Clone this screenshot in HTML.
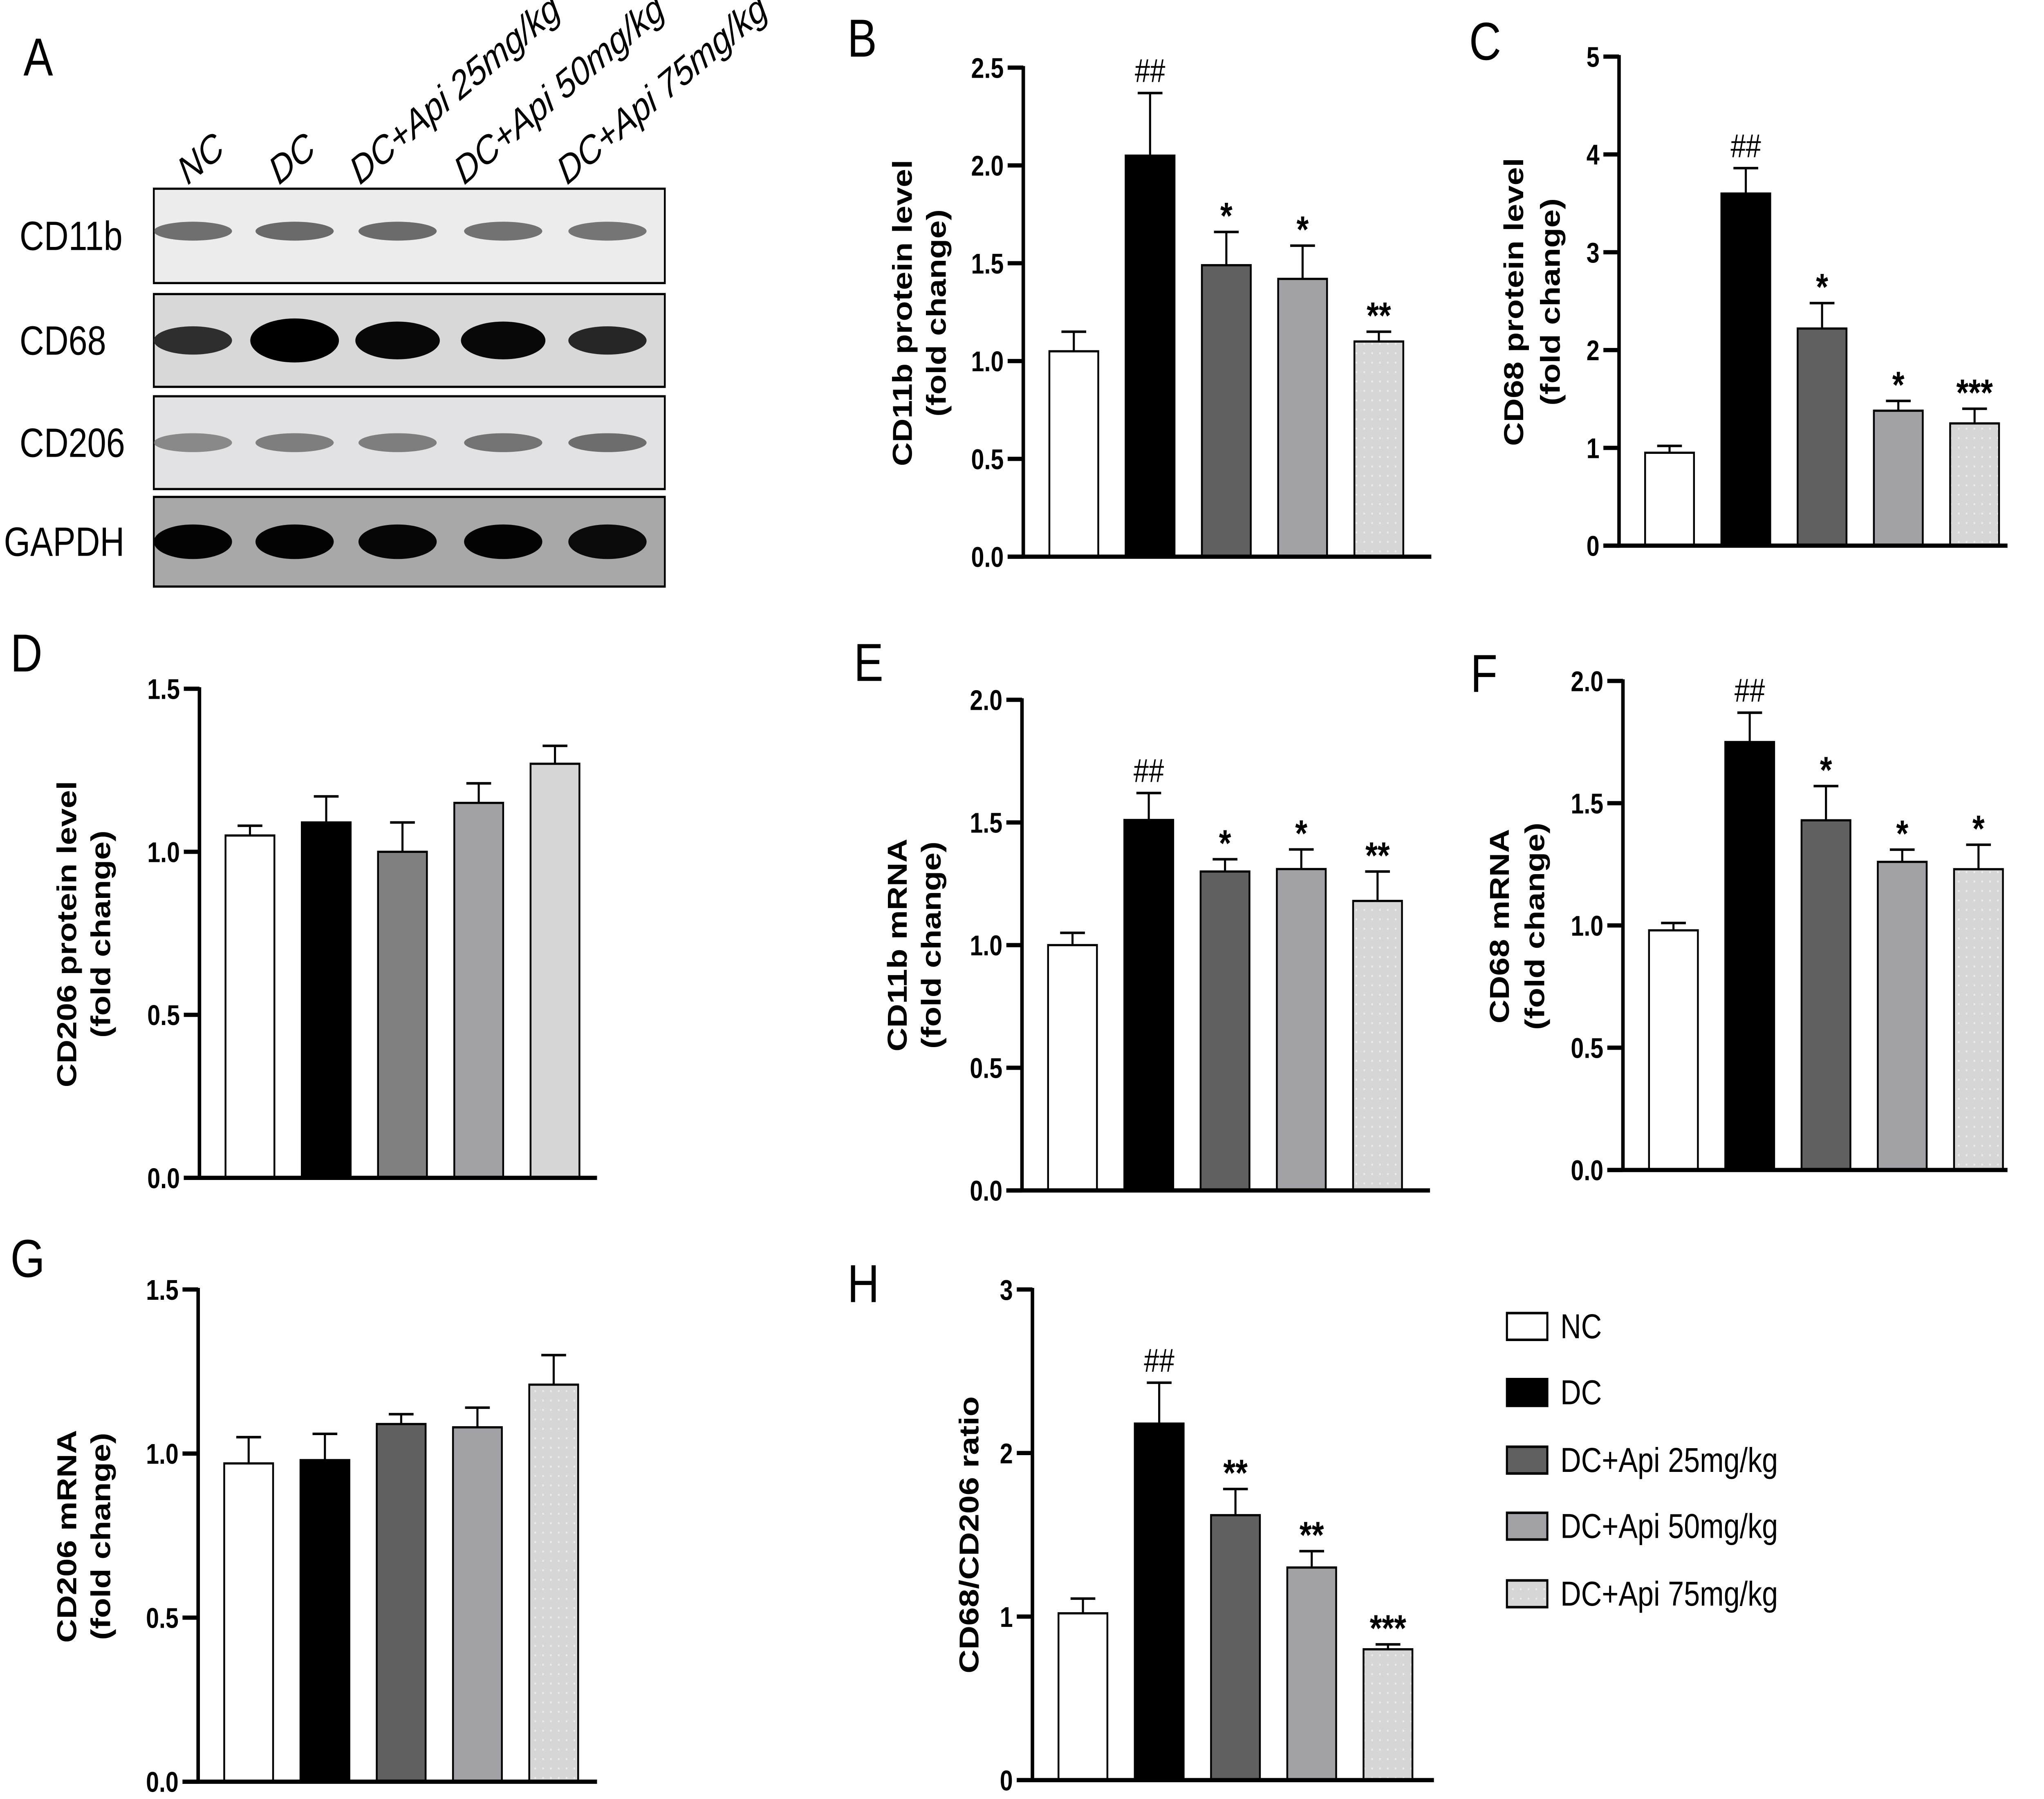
<!DOCTYPE html>
<html><head><meta charset="utf-8">
<style>
html,body{margin:0;padding:0;background:#fff;width:100%;height:100%;overflow:hidden;}
svg{display:block;width:100vw;height:100vh;}
text{font-family:"Liberation Sans",sans-serif;}
</style></head>
<body>
<svg id="fig" viewBox="0 0 1568 1144" preserveAspectRatio="none" xmlns="http://www.w3.org/2000/svg">
<defs>
<pattern id="dots" width="6" height="6" patternUnits="userSpaceOnUse">
<rect width="6" height="6" fill="#d6d6d6"/><rect x="2" y="2" width="1.2" height="1.2" fill="#ececec"/>
</pattern>
</defs>
<g id="blot">
<text x="18" y="48" font-size="34">A</text>
</g>
<g id="charts"></g>
<g id="legend"></g>
</svg>
<script>
// ---- data ----
const groups = ["NC","DC","DC+Api 25mg/kg","DC+Api 50mg/kg","DC+Api 75mg/kg"];
const valsB = [1.05, 2.05, 1.49, 1.42, 1.10];
const errB  = [0.10, 0.32, 0.17, 0.17, 0.05];
const sigB  = ["", "##", "*", "*", "**"];
const ticksB = [0, 0.5, 1.0, 1.5, 2.0, 2.5];
const valsC = [0.95, 3.60, 2.22, 1.38, 1.25];
const errC  = [0.07, 0.26, 0.26, 0.10, 0.15];
const sigC  = ["", "##", "*", "*", "***"];
const ticksC = [0, 1, 2, 3, 4, 5];
const valsD = [1.05, 1.09, 1.00, 1.15, 1.27];
const errD  = [0.03, 0.08, 0.09, 0.06, 0.055];
const sigD  = ["", "", "", "", ""];
const ticksD = [0, 0.5, 1.0, 1.5];
const valsE = [1.00, 1.51, 1.30, 1.31, 1.18];
const errE  = [0.05, 0.11, 0.05, 0.08, 0.12];
const sigE  = ["", "##", "*", "*", "**"];
const ticksE = [0, 0.5, 1.0, 1.5, 2.0];
const valsF = [0.98, 1.75, 1.43, 1.26, 1.23];
const errF  = [0.03, 0.12, 0.14, 0.05, 0.10];
const sigF  = ["", "##", "*", "*", "*"];
const ticksF = [0, 0.5, 1.0, 1.5, 2.0];
const valsG = [0.97, 0.98, 1.09, 1.08, 1.21];
const errG  = [0.08, 0.08, 0.03, 0.06, 0.09];
const sigG  = ["", "", "", "", ""];
const ticksG = [0, 0.5, 1.0, 1.5];
const valsH = [1.02, 2.18, 1.62, 1.30, 0.80];
const errH  = [0.09, 0.25, 0.16, 0.10, 0.03];
const sigH  = ["", "##", "**", "**", "***"];
const ticksH = [0, 1, 2, 3];

const NS = "http://www.w3.org/2000/svg";
function mk(tag, attrs, parent){
  const e = document.createElementNS(NS, tag);
  for (const k in attrs) e.setAttribute(k, attrs[k]);
  if (parent) parent.appendChild(e);
  return e;
}
const fills = ["#ffffff","#000000","#606060","#a2a2a6","url(#dots)"];
const fillsD = ["#ffffff","#000000","#808080","#a2a2a6","#d6d6d6"];

const panels = [
 {id:"b", L:"B", lx:650, ly:36, ax:785, y0:354, yTop:43, max:2.5, vals:valsB, err:errB, sig:sigB, ticks:ticksB, dec:1, xEnd:1098, title:["CD11b protein level","(fold change)"], tx:[694,720], ty:199, fills:fills},
 {id:"c", L:"C", lx:1127, ly:38, ax:1242, y0:347, yTop:36, max:5, vals:valsC, err:errC, sig:sigC, ticks:ticksC, dec:0, xEnd:1540, title:["CD68 protein level","(fold change)"], tx:[1163,1191], ty:192, fills:fills},
 {id:"d", L:"D", lx:8, ly:427, ax:153, y0:749, yTop:438, max:1.5, vals:valsD, err:errD, sig:sigD, ticks:ticksD, dec:1, xEnd:458, title:["CD206 protein level","(fold change)"], tx:[53,79], ty:594, fills:fillsD},
 {id:"e", L:"E", lx:655, ly:433, ax:784, y0:757, yTop:445, max:2.0, vals:valsE, err:errE, sig:sigE, ticks:ticksE, dec:1, xEnd:1097, title:["CD11b mRNA","(fold change)"], tx:[690,716], ty:601, fills:fills},
 {id:"f", L:"F", lx:1128, ly:440, ax:1245, y0:744, yTop:433, max:2.0, vals:valsF, err:errF, sig:sigF, ticks:ticksF, dec:1, xEnd:1540, title:["CD68 mRNA","(fold change)"], tx:[1152,1179], ty:589, fills:fills},
 {id:"g", L:"G", lx:8, ly:812, ax:152, y0:1133, yTop:820, max:1.5, vals:valsG, err:errG, sig:sigG, ticks:ticksG, dec:1, xEnd:458, title:["CD206 mRNA","(fold change)"], tx:[53,79], ty:977, fills:fills},
 {id:"h", L:"H", lx:650, ly:828, ax:792, y0:1132, yTop:820, max:3, vals:valsH, err:errH, sig:sigH, ticks:ticksH, dec:0, xEnd:1100, title:["CD68/CD206 ratio"], tx:[745], ty:976, fills:fills}
];

const root = document.getElementById("charts");
panels.forEach(p => {
  const g = mk("g", {}, root);
  
  
  const yS = v => p.y0 - (v / p.max) * (p.y0 - p.yTop);
  const xS = i => p.ax + 20 + i * 58.5;
  const bw = 37.5;
  const lab = mk("text", {x:p.lx, y:p.ly, "font-size":34}, g);
  lab.textContent = p.L;
  
  
  p.vals.forEach((v, i) => {
    const x = xS(i), top = yS(v), et = yS(v + p.err[i]);
    const eb = mk("line", {x1:x+bw/2, x2:x+bw/2, y1:top, y2:et, stroke:"#000", "stroke-width":1.6}, g);
    
    
    const cap = mk("line", {x1:x+bw/2-9.5, x2:x+bw/2+9.5, y1:et, y2:et, stroke:"#000", "stroke-width":1.6}, g);
    
    
    const r = mk("rect", {x:x, y:top, width:bw, height:p.y0 - top, fill:p.fills[i], stroke:"#000", "stroke-width":1.4}, g);
    
    
    if (p.sig[i]) {
      const isHash = p.sig[i].indexOf("#") >= 0;
      const s = mk("text", {x:x+bw/2, y:et - (isHash ? 7 : 2), "font-size": isHash ? 21 : 24, "text-anchor":"middle", "font-weight": isHash ? "normal" : "bold"}, g);
      s.textContent = p.sig[i];
      
      
    }
  });
  const ya = mk("line", {x1:p.ax, x2:p.ax, y1:p.yTop-1, y2:p.y0+1.3, stroke:"#000", "stroke-width":2.7}, g);
  
  
  const xa = mk("line", {x1:p.ax-12, x2:p.xEnd, y1:p.y0, y2:p.y0, stroke:"#000", "stroke-width":2.7}, g);
  
  
  p.ticks.forEach(t => {
    const y = yS(t);
    const tk = mk("line", {x1:p.ax-12, x2:p.ax, y1:y, y2:y, stroke:"#000", "stroke-width":2.7}, g);
    
    
    const tl = mk("text", {x:p.ax-15, y:y+6.5, "font-size":18, "font-weight":"bold", "text-anchor":"end"}, g);
    tl.textContent = t.toFixed(p.dec);
    
    
  });
  p.title.forEach((line, k) => {
    const tt = mk("text", {x:p.tx[k], y:p.ty, "font-size":21, "font-weight":"bold", "text-anchor":"middle", transform:`rotate(-90 ${p.tx[k]} ${p.ty})`, "dominant-baseline":"middle"}, g);
    tt.textContent = line;
    
    
  });
});

const leg = document.getElementById("legend");
const legY = [843, 885, 928, 970, 1013];
groups.forEach((name, i) => {
  const r = mk("rect", {x:1156, y:legY[i]-8, width:31, height:17, fill:fills[i], stroke:"#000", "stroke-width":1.6}, leg);
  
  
  const t = mk("text", {x:1197, y:legY[i]+8, "font-size":22}, leg);
  t.textContent = name;
  
  
});

const blot = document.getElementById("blot");
const rows = ["CD11b","CD68","CD206","GAPDH"];
const rowY = [120, 187, 252, 316];
const rowH = [60, 59, 59, 57];
const rowBg = ["#ececec","#d8d8d8","#e2e2e4","#a8a8a8"];
const bandW = [[0.45,0.6,0.55,0.45,0.45],[0.5,1,0.8,0.8,0.5],[0.25,0.35,0.35,0.5,0.6],[0.85,0.85,0.8,0.85,0.7]];
const bandDark = [[0.55,0.6,0.58,0.52,0.5],[0.7,1,0.95,0.95,0.75],[0.3,0.4,0.4,0.5,0.55],[0.95,0.95,0.9,0.95,0.85]];
const laneX = [148, 226, 305, 386, 466];
rows.forEach((rn, r) => {
  const y = rowY[r], h = rowH[r];
  const box = mk("rect", {x:118, y:y, width:392, height:h, fill:rowBg[r], stroke:"#000", "stroke-width":1.4}, blot);
  
  
  laneX.forEach((lx, l) => {
    const bh = r === 1 ? 8 + 20 * bandW[r][l] : (r === 3 ? 22 : 12);
    const gray = Math.round(255 * (1 - bandDark[r][l]) * (r===3?0.25:0.6));
    const e = mk("ellipse", {cx:lx, cy:y+h/2 - (r===0?3:0), rx: r===1 ? 26 + 8*bandW[r][l] : 30, ry:bh/2, fill:`rgb(${gray},${gray},${gray})`, opacity: r===0||r===2 ? 0.75 : 1}, blot);
    
    
  });
  const t = mk("text", {x:r===3?3:15, y:y+h/2+9, "font-size":26}, blot);
  t.textContent = rn;
  
  
});
const laneLab = [[144,118],[214,118],[276,118],[356,118],[435,118]];
groups.forEach((name, i) => {
  const t = mk("text", {x:laneLab[i][0], y:laneLab[i][1], "font-size":25, "font-style":"italic", transform:`rotate(-35 ${laneLab[i][0]} ${laneLab[i][1]})`}, blot);
  t.textContent = name;
  
  
});
</script>
</body></html>
